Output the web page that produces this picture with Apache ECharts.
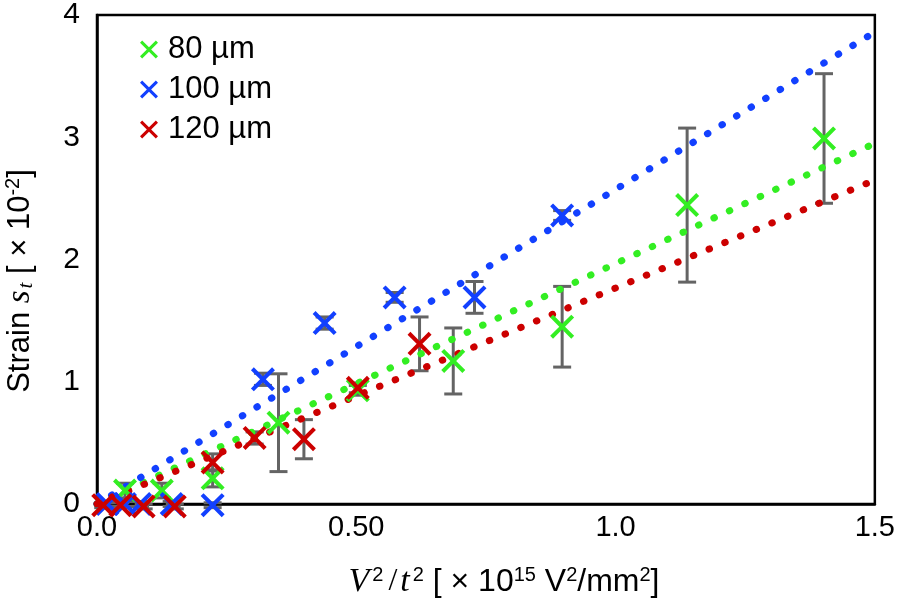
<!DOCTYPE html>
<html>
<head>
<meta charset="utf-8">
<script src="https://cdn.jsdelivr.net/npm/echarts@6/dist/echarts.min.js"></script>
<style>html,body{margin:0;padding:0;background:#fff}#c{width:898px;height:603px}</style>
</head>
<body>
<div id="c"></div>
<script>
// ---- data ----
const seriesNames = ['80 µm', '100 µm', '120 µm'];
const xTickLabels = ['0.0', '0.50', '1.0', '1.5'];
const yTickLabels = ['0', '1', '2', '3', '4'];

const x80 = [0.054, 0.125, 0.223, 0.350, 0.503, 0.687, 0.897, 1.138, 1.402];
const y80 = [0.11, 0.11, 0.21, 0.665, 0.93, 1.17, 1.45, 2.445, 2.99];
const e80 = [0.06, 0.06, 0.07, 0.40, 0.04, 0.27, 0.33, 0.63, 0.53];

const x100 = [0.020, 0.054, 0.083, 0.144, 0.223, 0.320, 0.439, 0.574, 0.728, 0.897];
const y100 = [0.00, 0.00, 0.00, 0.00, -0.01, 1.02, 1.48, 1.69, 1.69, 2.36];
const e100 = [0.02, 0.02, 0.02, 0.02, 0.02, 0.05, 0.05, 0.04, 0.13, 0.04];

const x120 = [0.012, 0.045, 0.090, 0.150, 0.223, 0.304, 0.399, 0.503, 0.622];
const y120 = [-0.01, -0.01, -0.02, -0.02, 0.34, 0.54, 0.53, 0.95, 1.31];
const e120 = [0.02, 0.02, 0.02, 0.02, 0.07, 0.05, 0.16, 0.04, 0.22];

// linear trend lines (end points)
const trendX = [0, 1.5];
const trend80 = [0, 2.95];
const trend100 = [0, 3.86];
const trend120 = [0, 2.65];

const colors = ['#33ee22', '#1240ff', '#cc0000'];
const crossPath = 'path://M0,12 L12,0 L50,38 L88,0 L100,12 L62,50 L100,88 L88,100 L50,62 L12,100 L0,88 L38,50 Z';

function pts(xs, ys) { return xs.map((x, i) => [x, ys[i]]); }
function errs(xs, ys, es) { return xs.map((x, i) => [x, ys[i] - es[i], ys[i] + es[i]]); }

const groups = [[x80, y80, e80, trend80], [x100, y100, e100, trend100], [x120, y120, e120, trend120]];

const series = [];
// error bars (behind)
groups.forEach((g, k) => {
  series.push({
    type: 'custom', name: 'err' + k, z: 1, clip: false,
    data: errs(g[0], g[1], g[2]),
    renderItem: function (params, api) {
      const lo = api.coord([api.value(0), api.value(1)]);
      const hi = api.coord([api.value(0), api.value(2)]);
      const w = 9;
      const st = { stroke: '#646464', lineWidth: 3 };
      return {
        type: 'group', children: [
          { type: 'line', shape: { x1: lo[0], y1: lo[1], x2: hi[0], y2: hi[1] }, style: st },
          { type: 'line', shape: { x1: lo[0] - w, y1: lo[1], x2: lo[0] + w, y2: lo[1] }, style: st },
          { type: 'line', shape: { x1: hi[0] - w, y1: hi[1], x2: hi[0] + w, y2: hi[1] }, style: st }
        ]
      };
    }
  });
});
// trend lines
groups.forEach((g, k) => {
  series.push({
    type: 'line', name: 'trend' + k, z: 2, symbol: 'none', silent: true,
    data: pts(trendX, g[3]),
    lineStyle: { color: colors[k], width: 7, type: [0.5, 16.5], cap: 'round' }
  });
});
// markers
groups.forEach((g, k) => {
  series.push({
    type: 'scatter', name: seriesNames[k], z: 3, clip: false,
    symbol: crossPath, symbolSize: 24,
    itemStyle: { color: colors[k], opacity: 1 },
    data: pts(g[0], g[1])
  });
});

const chart = echarts.init(document.getElementById('c'), null, { renderer: 'canvas' });
const sansFont = "'Liberation Sans', Arial, sans-serif";
const mathFont = "'Liberation Serif', 'DejaVu Serif', serif";

chart.setOption({
  animation: false,
  backgroundColor: '#fff',
  textStyle: { fontFamily: sansFont },
  grid: { left: 97, right: 22, top: 10, bottom: 99, show: true, borderColor: '#000', borderWidth: 2.5, backgroundColor: 'transparent' },
  xAxis: {
    type: 'value', min: 0, max: 1.5, interval: 0.5,
    axisLine: { show: true, onZero: false, lineStyle: { color: '#000', width: 2.5 } },
    axisTick: { show: false }, splitLine: { show: false },
    axisLabel: {
      color: '#000', fontSize: 29, margin: 9, fontFamily: sansFont,
      formatter: v => xTickLabels[Math.round(v / 0.5)]
    }
  },
  yAxis: {
    type: 'value', min: 0, max: 4, interval: 1,
    axisLine: { show: true, onZero: false, lineStyle: { color: '#000', width: 2.5 } },
    axisTick: { show: false }, splitLine: { show: false },
    axisLabel: {
      color: '#000', fontSize: 30, margin: 17, fontFamily: sansFont,
      formatter: v => yTickLabels[Math.round(v)]
    }
  },
  legend: {
    data: seriesNames, orient: 'vertical', left: 135, top: 29,
    itemWidth: 18, itemHeight: 18, itemGap: 9, icon: crossPath,
    textStyle: { color: '#000', fontSize: 31, fontFamily: sansFont, padding: [0, 0, 0, 5] }
  },
  graphic: [
    {
      type: 'text', x: 504, y: 582, z: 10,
      style: {
        text: '{i|V}{sup|2}{s|/}{i|t}{sup|2}{a| [ × 10}{sup|15}{a| V}{sup|2}{a|/mm}{sup|2}{a|]}',
        align: 'center', verticalAlign: 'middle',
        rich: {
          a: { fontSize: 32, fontFamily: sansFont, fill: '#000', lineHeight: 34 },
          s: { fontSize: 32, fontFamily: mathFont, fill: '#000', lineHeight: 34, padding: [0, 3, 0, 5] },
          i: { fontSize: 34, fontFamily: mathFont, fontStyle: 'italic', fill: '#000', lineHeight: 34, padding: [0, 3, 0, 0] },
          sup: { fontSize: 20, fontFamily: sansFont, fill: '#000', verticalAlign: 'top', lineHeight: 20 }
        }
      }
    },
    {
      type: 'text', x: 20, y: 281, rotation: Math.PI / 2, z: 10,
      style: {
        text: '{a|Strain }{i|s}{sub|t}{a| [ × 10}{sup|-2}{a|]}',
        align: 'center', verticalAlign: 'middle',
        rich: {
          a: { fontSize: 31, fontFamily: sansFont, fill: '#000', lineHeight: 34 },
          i: { fontSize: 33, fontFamily: mathFont, fontStyle: 'italic', fill: '#000', lineHeight: 34, padding: [0, 2, 0, 0] },
          sub: { fontSize: 21, fontFamily: mathFont, fontStyle: 'italic', fill: '#000', verticalAlign: 'bottom', lineHeight: 22 },
          sup: { fontSize: 20, fontFamily: sansFont, fill: '#000', verticalAlign: 'top', lineHeight: 20 }
        }
      }
    }
  ],
  series: series
});
</script>
</body>
</html>
